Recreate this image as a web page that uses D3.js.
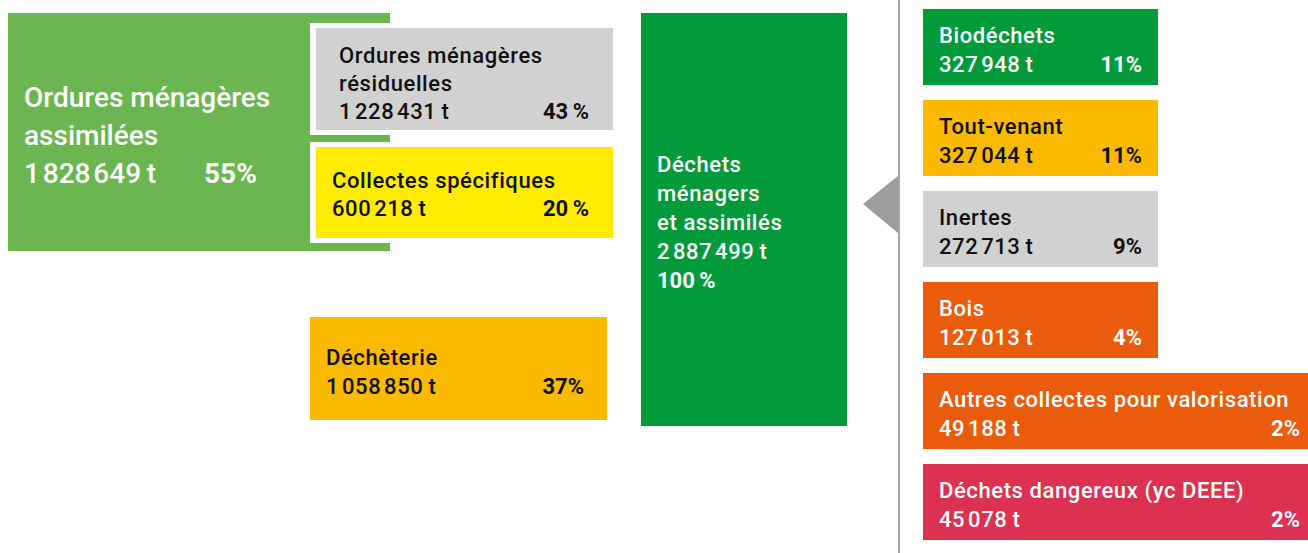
<!DOCTYPE html>
<html>
<head>
<meta charset="utf-8">
<script src="https://cdn.jsdelivr.net/npm/d3@7"></script>
<style>
  body { margin: 0; background: #fff; }
  svg text { font-family: Roboto, "Noto Sans", sans-serif; }
</style>
</head>
<body>
<svg width="1308" height="553"></svg>
<script>
// --- Data ---
const totalLabel = "Déchets\nménagers\net assimilés";
const totalTonnes = 2887499;
const totalPct = "100\u2009%";

const omaLabel = "Ordures ménagères\nassimilées";
const omaTonnes = 1828649;
const omaPct = "55%";

const omaCats = ["Ordures ménagères\nrésiduelles", "Collectes spécifiques"];
const omaSubTonnes = [1228431, 600218];
const omaSubPct = ["43\u2009%", "20\u2009%"];

const decheterieLabel = "Déchèterie";
const decheterieTonnes = 1058850;
const decheteriePct = "37%";

const decheterieCats = ["Biodéchets", "Tout-venant", "Inertes", "Bois",
    "Autres collectes pour valorisation", "Déchets dangereux (yc DEEE)"];
const decheterieSubTonnes = [327948, 327044, 272713, 127013, 49188, 45078];
const decheterieSubPct = ["11%", "11%", "9%", "4%", "2%", "2%"];

// --- Setup ---
const svg = d3.select("svg"),
    width = +svg.attr("width"),
    height = +svg.attr("height");

const fr = d3.formatLocale({ decimal: ",", thousands: "\u200a", grouping: [3], currency: ["", " €"] });
const fmtT = v => fr.format(",")(v) + "\u2009t";

const LS = 0.6; // letter spacing of the 22px text

const colors = {
    lightGreen: "#6cb651",
    darkGreen: "#009a3b",
    gray: "#d0d1d0",
    yellow: "#ffec00",
    amber: "#fbb900",
    orange: "#ea5b0c",
    red: "#dc3150"
};
const subColors = [colors.darkGreen, colors.amber, colors.gray, colors.orange, colors.orange, colors.red];
const textOn = c => (c === colors.gray || c === colors.yellow || c === colors.amber) ? "#111" : "#fff";

// draw lines of text, returns the selection of text nodes
function textLines(g, lines, x, y, lh, size, weight, fill, ls) {
    return g.selectAll(null)
        .data(lines)
        .enter().append("text")
        .attr("x", x)
        .attr("y", (d, i) => y + i * lh)
        .attr("font-size", size)
        .attr("font-weight", weight)
        .attr("letter-spacing", ls || 0)
        .attr("fill", fill)
        .text(d => d);
}

// --- Ordures ménagères assimilées (big box) ---
const gOma = svg.append("g");
gOma.append("rect")
    .attr("x", 8).attr("y", 13).attr("width", 382).attr("height", 238)
    .attr("fill", colors.lightGreen);
textLines(gOma, omaLabel.split("\n").concat([fmtT(omaTonnes)]), 24, 107, 38, 28, 500, "#fff");
gOma.append("text")
    .attr("x", 204).attr("y", 183)
    .attr("font-size", 28).attr("font-weight", 700).attr("fill", "#fff")
    .text(omaPct);

// sub boxes of OMA
const omaY = d3.scaleOrdinal().domain(omaCats).range([28, 147]);
const omaH = d3.scaleOrdinal().domain(omaCats).range([102, 91]);
const omaPad = d3.scaleOrdinal().domain(omaCats).range([23, 16]);
const omaFirst = d3.scaleOrdinal().domain(omaCats).range([35, 41]);
const omaColor = [colors.gray, colors.yellow];

omaCats.forEach((cat, i) => {
    const x = 316, w = 297, y = omaY(cat), h = omaH(cat);
    const g = svg.append("g");
    g.append("rect")
        .attr("x", x - 6).attr("y", y - 5).attr("width", w + 12).attr("height", h + 10)
        .attr("fill", "#fff");
    g.append("rect")
        .attr("x", x).attr("y", y).attr("width", w).attr("height", h)
        .attr("fill", omaColor[i]);
    const lines = cat.split("\n").concat([fmtT(omaSubTonnes[i])]);
    textLines(g, lines, x + omaPad(cat), y + omaFirst(cat), 28, 22, 500, "#111", LS);
    g.append("text")
        .attr("x", x + w - 24).attr("y", y + omaFirst(cat) + (lines.length - 1) * 28)
        .attr("text-anchor", "end")
        .attr("font-size", 22).attr("font-weight", 700).attr("fill", "#111")
        .text(omaSubPct[i]);
});

// --- Déchèterie ---
const gDech = svg.append("g");
gDech.append("rect")
    .attr("x", 310).attr("y", 317).attr("width", 297).attr("height", 103)
    .attr("fill", colors.amber);
textLines(gDech, [decheterieLabel, fmtT(decheterieTonnes)], 326, 365, 29, 22, 500, "#111", LS);
gDech.append("text")
    .attr("x", 584).attr("y", 394)
    .attr("text-anchor", "end")
    .attr("font-size", 22).attr("font-weight", 700).attr("fill", "#111")
    .text(decheteriePct);

// --- Total box ---
const gTot = svg.append("g");
gTot.append("rect")
    .attr("x", 641).attr("y", 13).attr("width", 206).attr("height", 413)
    .attr("fill", colors.darkGreen);
textLines(gTot, totalLabel.split("\n").concat([fmtT(totalTonnes)]), 657, 172, 29, 22, 500, "#fff", LS);
gTot.append("text")
    .attr("x", 657).attr("y", 172 + 4 * 29)
    .attr("font-size", 22).attr("font-weight", 700).attr("fill", "#fff")
    .text(totalPct);

// --- Divider and arrow ---
svg.append("line")
    .attr("x1", 899).attr("x2", 899).attr("y1", 0).attr("y2", height)
    .attr("stroke", "#a6a6a6").attr("stroke-width", 2);
svg.append("path")
    .attr("d", d3.line()([[863, 204], [898, 176], [898, 233]]) + "Z")
    .attr("fill", "#9d9d9d");

// --- Déchèterie breakdown ---
const y = d3.scaleBand()
    .domain(decheterieCats)
    .range([9, 540])
    .paddingInner(0.165)
    .paddingOuter(0);

const boxX = 923, narrowW = 235, wideW = width + 8 - boxX;

const rows = svg.append("g").selectAll("g")
    .data(decheterieCats)
    .enter().append("g")
    .attr("transform", d => `translate(${boxX},${y(d)})`);

const rects = rows.append("rect")
    .attr("height", y.bandwidth())
    .attr("fill", (d, i) => subColors[i]);

const names = rows.append("text")
    .attr("x", 16).attr("y", 34)
    .attr("font-size", 22).attr("font-weight", 500)
    .attr("letter-spacing", LS)
    .attr("fill", (d, i) => textOn(subColors[i]))
    .text(d => d);

// wider box when the label does not fit
const widths = names.nodes().map(n => n.getComputedTextLength() + 32 > narrowW ? wideW : narrowW);
rects.attr("width", (d, i) => widths[i]);

rows.append("text")
    .attr("x", 16).attr("y", 63)
    .attr("font-size", 22).attr("font-weight", 500)
    .attr("letter-spacing", LS)
    .attr("fill", (d, i) => textOn(subColors[i]))
    .text((d, i) => fmtT(decheterieSubTonnes[i]));

rows.append("text")
    .attr("x", (d, i) => widths[i] - 16).attr("y", 63)
    .attr("text-anchor", "end")
    .attr("font-size", 22).attr("font-weight", 700)
    .attr("fill", (d, i) => textOn(subColors[i]))
    .text((d, i) => decheterieSubPct[i]);
</script>
</body>
</html>
